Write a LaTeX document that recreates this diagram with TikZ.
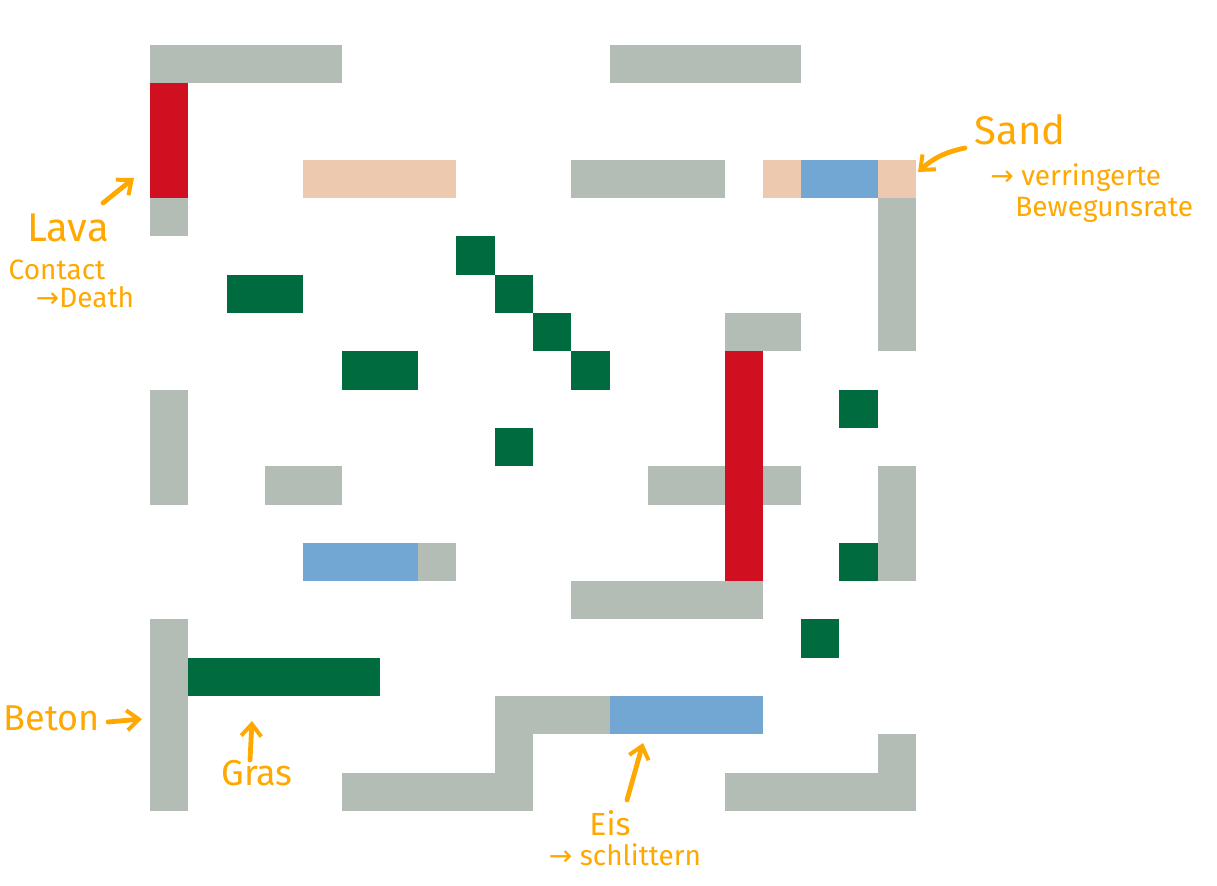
\documentclass[tikz,border=0pt]{standalone}
\usepackage{fontspec}
\setmainfont{Fira Sans}
\newfontfamily\arrowfont{DejaVu Sans}
\usetikzlibrary{arrows.meta}
\definecolor{beton}{HTML}{B3BDB5}
\definecolor{lava}{HTML}{D00F20}
\definecolor{sand}{HTML}{EDC9AF}
\definecolor{eis}{HTML}{72A6D3}
\definecolor{gras}{HTML}{006B3F}
\definecolor{note}{HTML}{FFA800}
\newcommand\blk[5]{\fill[#5] ({150+38.3*#1},{45+38.3*#2}) rectangle ({150+38.3*#3},{45+38.3*#4});}
\begin{document}
\begin{tikzpicture}[x=0.5pt,y=-0.5pt,
  lbl/.style={text=note, inner sep=0pt, font=\fontsize{14}{16}\selectfont},
  arr/.style={draw=note, line width=2.4pt, line cap=round, -{Straight Barb[length=6pt,width=10pt,line width=2pt]}}]
\useasboundingbox (0,0) rectangle (1217,886);
\fill[white] (0,0) rectangle (1217,886);
% Beton
\blk{0}{0}{5}{1}{beton}
\blk{0}{4}{1}{5}{beton}
\blk{12}{0}{17}{1}{beton}
\blk{11}{3}{15}{4}{beton}
\blk{19}{4}{20}{8}{beton}
\blk{15}{7}{17}{8}{beton}
\blk{13}{11}{17}{12}{beton}
\blk{0}{9}{1}{12}{beton}
\blk{3}{11}{5}{12}{beton}
\blk{7}{13}{8}{14}{beton}
\blk{19}{11}{20}{14}{beton}
\blk{11}{14}{16}{15}{beton}
\blk{0}{15}{1}{20}{beton}
\blk{9}{17}{12}{18}{beton}
\blk{9}{17}{10}{20}{beton}
\blk{5}{19}{10}{20}{beton}
\blk{15}{19}{20}{20}{beton}
\blk{19}{18}{20}{20}{beton}
% Lava
\blk{0}{1}{1}{4}{lava}
\blk{15}{8}{16}{14}{lava}
% Sand
\blk{4}{3}{8}{4}{sand}
\blk{16}{3}{17}{4}{sand}
\blk{19}{3}{20}{4}{sand}
% Eis
\blk{17}{3}{19}{4}{eis}
\blk{4}{13}{7}{14}{eis}
\blk{12}{17}{16}{18}{eis}
% Gras
\blk{8}{5}{9}{6}{gras}
\blk{9}{6}{10}{7}{gras}
\blk{10}{7}{11}{8}{gras}
\blk{11}{8}{12}{9}{gras}
\blk{2}{6}{4}{7}{gras}
\blk{5}{8}{7}{9}{gras}
\blk{18}{9}{19}{10}{gras}
\blk{9}{10}{10}{11}{gras}
\blk{18}{13}{19}{14}{gras}
\blk{17}{15}{18}{16}{gras}
\blk{1}{16}{6}{17}{gras}
% Annotations
\node[lbl, font=\fontsize{20}{22}\selectfont] (lava) at (68,228) {Lava};
\node[lbl] (contact) at (57,270) {Contact};
\node[lbl] (death) at (85,297) {{\arrowfont→}Death};
\coordinate (lavaS) at (103,203);
\coordinate (lavaE) at (134,178);
\draw[arr] (lavaS) -- (lavaE);

\node[lbl, font=\fontsize{20}{22}\selectfont] (sand) at (1020,130) {Sand};
\node[lbl, anchor=west] (verr) at (990,178) {{\arrowfont→} verringerte};
\node[lbl, anchor=west] (bew) at (1015,210) {Bewegunsrate};
\coordinate (sandS) at (965,148);
\coordinate (sandE) at (918,172);
\draw[arr] (sandS) to[bend right=15] (sandE);

\node[lbl, font=\fontsize{18}{20}\selectfont] (beton) at (52,718) {Beton};
\coordinate (betonS) at (108,722);
\coordinate (betonE) at (142,719);
\draw[arr] (betonS) -- (betonE);

\node[lbl, font=\fontsize{18}{20}\selectfont] (grasl) at (257,773) {Gras};
\coordinate (grasS) at (250,760);
\coordinate (grasE) at (252,721);
\draw[arr] (grasS) -- (grasE);

\node[lbl, font=\fontsize{16}{18}\selectfont] (eisl) at (610,823) {Eis};
\node[lbl] (schl) at (625,855) {{\arrowfont→} schlittern};
\coordinate (eisS) at (627,800);
\coordinate (eisE) at (643,743);
\draw[arr] (eisS) -- (eisE);
\end{tikzpicture}
\end{document}
